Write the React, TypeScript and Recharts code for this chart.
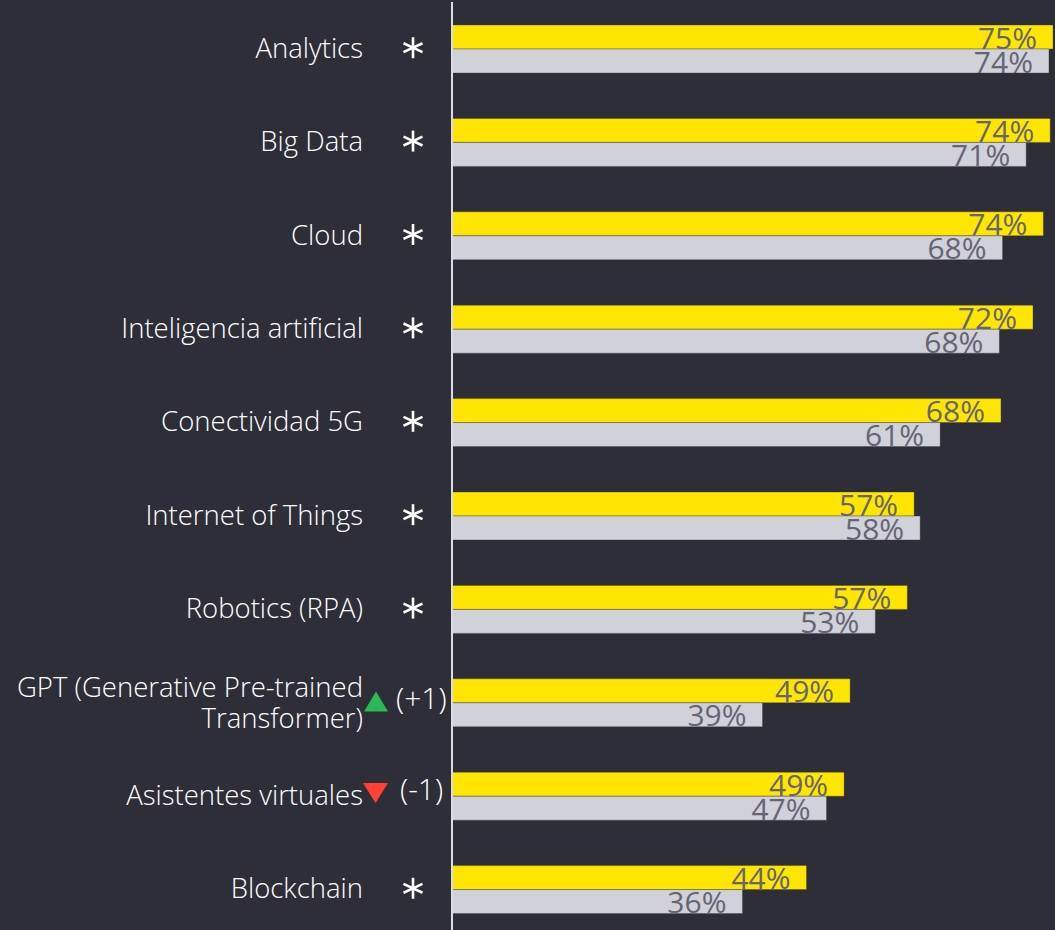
import { BarChart, Bar, XAxis, YAxis, LabelList } from 'recharts';

const categories = [
  'Analytics',
  'Big Data',
  'Cloud',
  'Inteligencia artificial',
  'Conectividad 5G',
  'Internet of Things',
  'Robotics (RPA)',
  'GPT (Generative Pre-trained\nTransformer)',
  'Asistentes virtuales',
  'Blockchain',
];

// bar lengths
const currentValues = [75.1, 74.75, 73.9, 72.6, 68.6, 57.75, 56.9, 49.75, 49.0, 44.3];
const previousValues = [74.6, 71.75, 68.8, 68.4, 61.0, 58.5, 52.9, 38.8, 46.8, 36.3];

// printed percentages
const currentLabels = [75, 74, 74, 72, 68, 57, 57, 49, 49, 44];
const previousLabels = [74, 71, 68, 68, 61, 58, 53, 39, 47, 36];

// '*' = no change in ranking
const rankChanges = ['*', '*', '*', '*', '*', '*', '*', '+1', '-1', '*'];

const BG = '#2e2e38';
const YELLOW = '#ffe600';
const GREY = '#d1d1d9';
const VALUE_TEXT = '#656574';
const FONT = '"Open Sans", "Noto Sans", sans-serif';

const data = categories.map((name, i) => ({
  name,
  current: currentValues[i],
  previous: previousValues[i],
  currentLabel: currentLabels[i],
  previousLabel: previousLabels[i],
  change: rankChanges[i],
}));

function Asterisk({ cx, cy }: { cx: number; cy: number }) {
  const r = 10.5;
  const angles = [90, 25, 155];
  return (
    <g stroke="#ffffff" strokeWidth={2.6}>
      {angles.map((a) => {
        const rad = (a * Math.PI) / 180;
        const dx = Math.cos(rad) * r;
        const dy = Math.sin(rad) * r;
        return <line key={a} x1={cx - dx} y1={cy - dy} x2={cx + dx} y2={cy + dy} />;
      })}
    </g>
  );
}

function CategoryTick(props: any) {
  const { x, y, payload, index } = props;
  const lines = String(payload.value).split('\n');
  const change = rankChanges[index];
  const textX = x - 89;
  return (
    <g>
      {lines.length === 1 ? (
        <text x={textX} y={y + 9} textAnchor="end" fill="#ffffff" fontSize={27.5} fontWeight={300} fontFamily={FONT}>
          {lines[0]}
        </text>
      ) : (
        <text textAnchor="end" fill="#ffffff" fontSize={27.5} fontWeight={300} fontFamily={FONT}>
          <tspan x={textX} y={y - 6}>{lines[0]}</tspan>
          <tspan x={textX} y={y + 25.5}>{lines[1]}</tspan>
        </text>
      )}
      {change === '*' && <Asterisk cx={x - 39} cy={y - 1} />}
      {change.startsWith('+') && (
        <>
          <polygon
            points={`${x - 88},${y + 9} ${x - 64},${y + 9} ${x - 76},${y - 11}`}
            fill="#2db757"
          />
          <text x={x - 56} y={y + 6} fill="#ffffff" fontSize={30} fontWeight={300} fontFamily={FONT}>
            ({change})
          </text>
        </>
      )}
      {change.startsWith('-') && (
        <>
          <polygon
            points={`${x - 89},${y - 13} ${x - 64},${y - 13} ${x - 76.5},${y + 7}`}
            fill="#ff4136"
          />
          <text x={x - 52} y={y + 4} fill="#ffffff" fontSize={30} fontWeight={300} fontFamily={FONT}>
            ({change})
          </text>
        </>
      )}
    </g>
  );
}

function ValueLabel(props: any) {
  const { x, y, width, height, value } = props;
  return (
    <text
      x={x + width - 16}
      y={y + height - 0.5}
      textAnchor="end"
      fill={VALUE_TEXT}
      fontSize={30}
      fontWeight={400}
      fontFamily={FONT}
    >
      {value}%
    </text>
  );
}

export default function App() {
  return (
    <div
      style={{
        position: 'absolute',
        left: 0,
        top: 0,
        width: 1055,
        height: 930,
        overflow: 'hidden',
        background: BG,
      }}
    >
      <BarChart
        width={1055}
        height={936}
        data={data}
        layout="vertical"
        margin={{ top: 2, right: 2, bottom: 0, left: 0 }}
        barGap={0}
      >
        <XAxis type="number" domain={[0, 75.1]} hide />
        <YAxis
          type="category"
          dataKey="name"
          width={452}
          tickLine={false}
          tickSize={0}
          tickMargin={0}
          axisLine={{ stroke: '#dcdce4', strokeWidth: 2 }}
          tick={<CategoryTick />}
          interval={0}
        />
        <Bar
          dataKey="current"
          fill={YELLOW}
          barSize={24}
          stroke="rgba(46,46,56,0.35)"
          strokeWidth={1}
          isAnimationActive={false}
        >
          <LabelList dataKey="currentLabel" content={<ValueLabel />} />
        </Bar>
        <Bar
          dataKey="previous"
          fill={GREY}
          barSize={24}
          stroke="rgba(46,46,56,0.35)"
          strokeWidth={1}
          isAnimationActive={false}
        >
          <LabelList dataKey="previousLabel" content={<ValueLabel />} />
        </Bar>
      </BarChart>
    </div>
  );
}
